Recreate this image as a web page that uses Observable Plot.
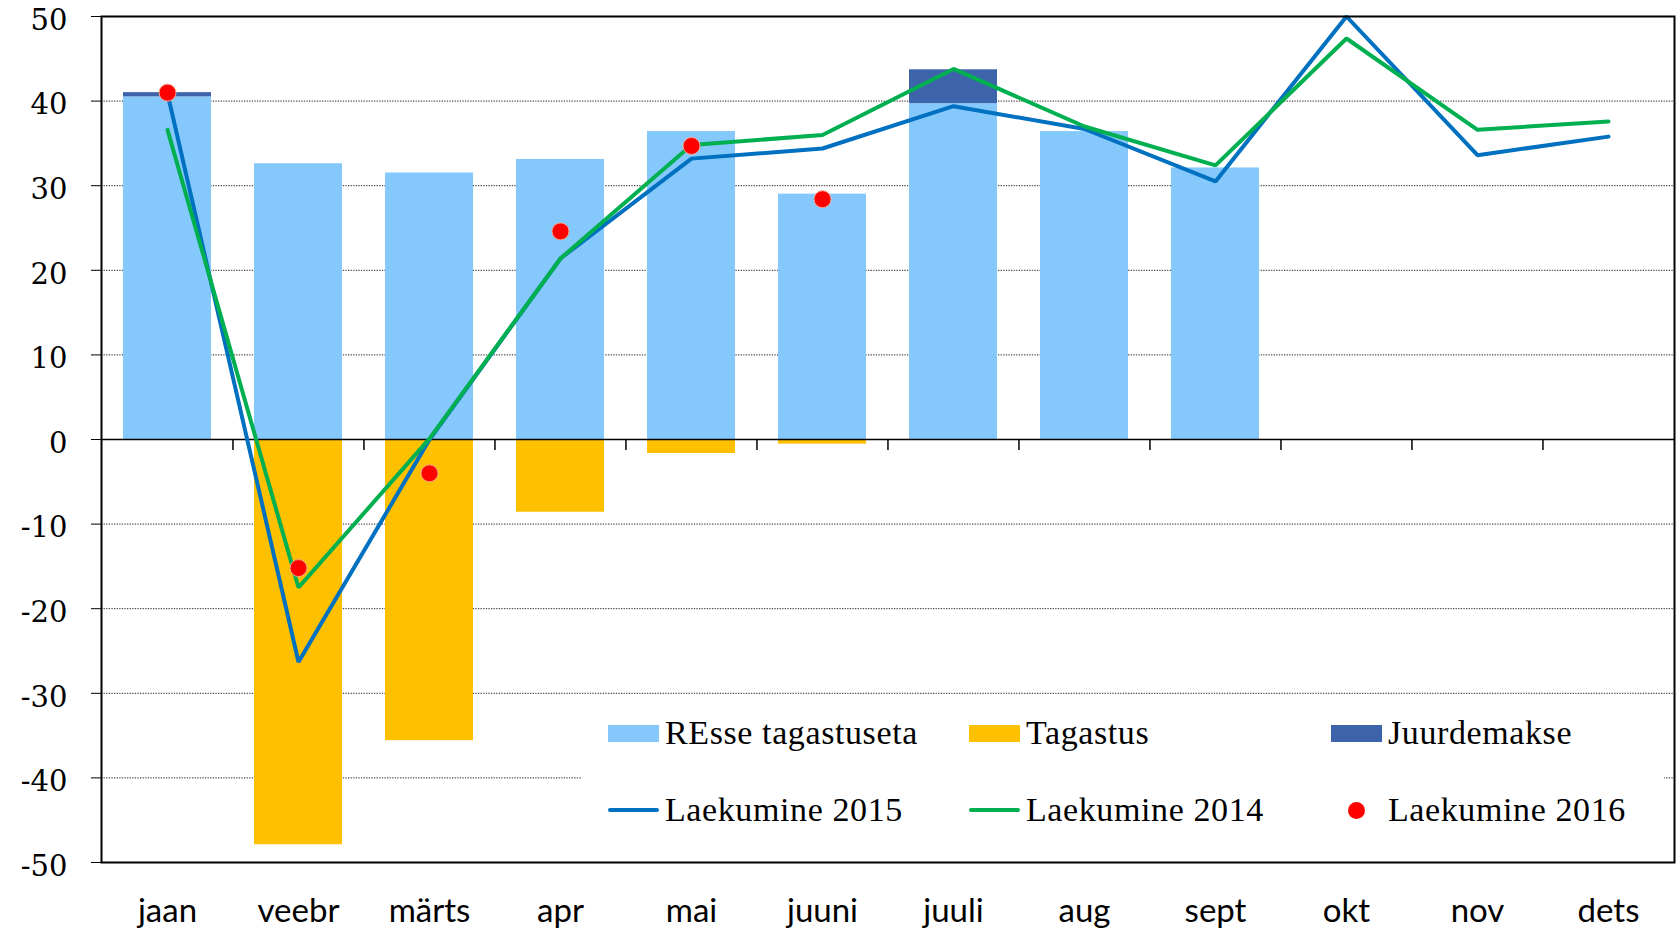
<!DOCTYPE html>
<html>
<head>
<meta charset="utf-8">
<script src="https://cdn.jsdelivr.net/npm/d3@7"></script>
<script src="https://cdn.jsdelivr.net/npm/@observablehq/plot@0.6"></script>
<style>
  html, body { margin: 0; padding: 0; background: #fff; }
  #wrap { position: relative; width: 1677px; height: 930px; }
  #legend { position: absolute; left: 581px; top: 700px; width: 1083px; height: 158px; background: #fff;
            font-family: "Liberation Serif", serif; font-size: 34px; letter-spacing: 0.6px; color: #000; }
  .item { position: absolute; display: flex; align-items: center; height: 40px; white-space: nowrap; }
  .sw { display: inline-block; width: 51px; margin-right: 6px; }
</style>
</head>
<body>
<div id="wrap"><div id="chart"></div><div id="legend"></div></div>
<script>
const months = ["jaan","veebr","märts","apr","mai","juuni","juuli","aug","sept","okt","nov","dets"];
const resse       = [40.5, 32.6, 31.5, 33.1, 36.4, 29.0, 39.7, 36.4, 32.1, 0, 0, 0];
const juurdemakse = [0.5, 0, 0, 0, 0, 0, 4.0, 0, 0, 0, 0, 0];
const tagastus    = [0, -47.9, -35.6, -8.6, -1.65, -0.55, 0, 0, 0, 0, 0, 0];
const laek2015 = [40.9, -26.3, 0.0, 21.4, 33.2, 34.4, 39.4, 36.7, 30.5, 50.0, 33.6, 35.8];
const laek2014 = [36.6, -17.5, 0.1, 21.4, 34.8, 36.0, 43.8, 37.0, 32.4, 47.4, 36.6, 37.6];
const laek2016 = [41.0, -15.2, -4.0, 24.6, 34.7, 28.4];
const yTicks = [-50, -40, -30, -20, -10, 0, 10, 20, 30, 40, 50];

const barSeries = ["REsse tagastuseta", "Juurdemakse", "Tagastus"];
const barColors = ["#85C8FC", "#3D64AB", "#FFC000"];
const lineColors = {"Laekumine 2015": "#0070C0", "Laekumine 2014": "#00B050"};
const dotColor = "#FF0000";

const bars = [];
months.forEach((m, i) => {
  bars.push({month: m, series: barSeries[0], value: resse[i]});
  bars.push({month: m, series: barSeries[1], value: juurdemakse[i]});
  bars.push({month: m, series: barSeries[2], value: tagastus[i]});
});
const l15 = months.map((m, i) => ({month: m, value: laek2015[i]}));
const l14 = months.map((m, i) => ({month: m, value: laek2014[i]}));
const l16 = laek2016.map((v, i) => ({month: months[i], value: v}));

const W = 1677, H = 930;
const mL = 101, mR = 3, mT = 16, mB = 68;
const step = (W - mL - mR) / months.length;

const chart = Plot.plot({
  width: W, height: H,
  marginLeft: mL, marginRight: mR, marginTop: mT, marginBottom: mB,
  x: {type: "band", domain: months, paddingInner: 0.33, paddingOuter: 0.165, align: 0.5},
  y: {domain: [-50, 50]},
  color: {domain: barSeries, range: barColors},
  marks: [
    Plot.gridY(yTicks.filter(d => d !== 0 && Math.abs(d) !== 50), {stroke: "#222", strokeOpacity: 1, strokeWidth: 1, strokeDasharray: "1.3,1.3"}),
    Plot.barY(bars, {x: "month", y: "value", fill: "series", z: "series"}),
    Plot.ruleY([0], {stroke: "#000", strokeWidth: 1.5}),
    Plot.ruleX(months.slice(1), {x: d => d, y1: 0, y2: -1.3, dx: -step / 2, stroke: "#000", strokeWidth: 1.5}),
    Plot.lineY(l15, {x: "month", y: "value", stroke: lineColors["Laekumine 2015"], strokeWidth: 4, strokeLinejoin: "miter", strokeLinecap: "round"}),
    Plot.lineY(l14, {x: "month", y: "value", stroke: lineColors["Laekumine 2014"], strokeWidth: 4, strokeLinejoin: "miter", strokeLinecap: "round"}),
    Plot.dot(l16, {x: "month", y: "value", r: 8.5, fill: dotColor, stroke: "#F6A58C", strokeWidth: 1}),
    Plot.frame({stroke: "#000", strokeWidth: 2}),
    // tick marks
    Plot.axisY({ticks: yTicks, tickSize: 10, text: null, label: null, stroke: "#000"}),
    // tick labels, nudged down slightly as in the reference
    Plot.axisY({ticks: yTicks, tickSize: 0, tickPadding: 34, tickFormat: d => String(d), dy: 4,
                fontSize: 29, fontFamily: "DejaVu Serif", label: null}),
    Plot.axisX({tickSize: 0, tickPadding: 36, fontSize: 33, fontFamily: "Lato", label: null})
  ]
});
chart.style.color = "#000";
document.getElementById("chart").appendChild(chart);

// legend
const legend = document.getElementById("legend");
const items = [
  {label: barSeries[0], kind: "box", color: barColors[0], x: 27, y: 33},
  {label: barSeries[2], kind: "box", color: barColors[2], x: 388, y: 33},
  {label: barSeries[1], kind: "box", color: barColors[1], x: 750, y: 33},
  {label: "Laekumine 2015", kind: "line", color: lineColors["Laekumine 2015"], x: 27, y: 110},
  {label: "Laekumine 2014", kind: "line", color: lineColors["Laekumine 2014"], x: 388, y: 110},
  {label: "Laekumine 2016", kind: "dot", color: dotColor, x: 750, y: 110}
];
for (const it of items) {
  const d = document.createElement("div");
  d.className = "item";
  d.style.left = it.x + "px";
  d.style.top = (it.y - 20) + "px";
  const s = document.createElement("span");
  s.className = "sw";
  if (it.kind === "box") { s.style.height = "17px"; s.style.background = it.color; }
  else if (it.kind === "line") { s.style.height = "4px"; s.style.background = it.color; s.style.borderRadius = "2px"; }
  else {
    s.style.height = "17px"; s.style.display = "flex"; s.style.justifyContent = "center"; s.style.alignItems = "center";
    const c = document.createElement("span");
    c.style.cssText = `display:inline-block;width:17px;height:17px;border-radius:50%;background:${it.color}`;
    s.appendChild(c);
  }
  d.appendChild(s);
  const t = document.createElement("span");
  t.textContent = it.label;
  d.appendChild(t);
  legend.appendChild(d);
}
</script>
</body>
</html>
